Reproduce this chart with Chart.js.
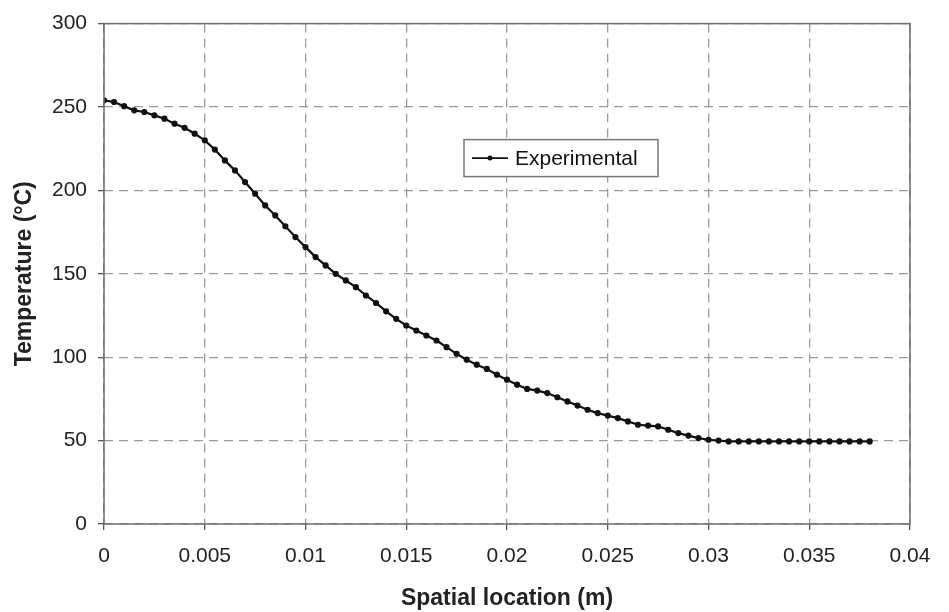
<!DOCTYPE html>
<html>
<head>
<meta charset="utf-8">
<title>Temperature profile</title>
<script src="https://cdn.jsdelivr.net/npm/chart.js@4/dist/chart.umd.min.js"></script>
<style>
  html, body { margin: 0; padding: 0; background: #fff; }
  #wrap { width: 949px; height: 612px; position: relative; }
</style>
</head>
<body>
<div id="wrap"><canvas id="tempChart"></canvas></div>
<script>
// spatial location (m), sampled every 0.5 mm
const locations = [
  0, 0.0005, 0.001, 0.0015, 0.002, 0.0025, 0.003, 0.0035, 0.004, 0.0045,
  0.005, 0.0055, 0.006, 0.0065, 0.007, 0.0075, 0.008, 0.0085, 0.009, 0.0095,
  0.01, 0.0105, 0.011, 0.0115, 0.012, 0.0125, 0.013, 0.0135, 0.014, 0.0145,
  0.015, 0.0155, 0.016, 0.0165, 0.017, 0.0175, 0.018, 0.0185, 0.019, 0.0195,
  0.02, 0.0205, 0.021, 0.0215, 0.022, 0.0225, 0.023, 0.0235, 0.024, 0.0245,
  0.025, 0.0255, 0.026, 0.0265, 0.027, 0.0275, 0.028, 0.0285, 0.029, 0.0295,
  0.03, 0.0305, 0.031, 0.0315, 0.032, 0.0325, 0.033, 0.0335, 0.034, 0.0345,
  0.035, 0.0355, 0.036, 0.0365, 0.037, 0.0375, 0.038
];

// measured temperature (°C)
const temperatures = [
  254, 253, 250.5, 248, 247, 245, 243, 240, 237.5, 234,
  230, 224.5, 218, 212, 205, 198, 191, 185, 178.5, 172,
  166, 160, 155, 150, 146, 142, 137, 132.5, 127.5, 123,
  119, 116, 113, 110, 106, 102, 98.5, 95.5, 93, 89.5,
  86.5, 83.5, 81, 80, 78.5, 76, 73.5, 71, 68.5, 66.5,
  65, 63.5, 61.5, 59.5, 59, 58.5, 56.5, 54.5, 53, 51.5,
  50.5, 50, 49.5, 49.5, 49.5, 49.5, 49.5, 49.5, 49.5, 49.5,
  49.5, 49.5, 49.5, 49.5, 49.5, 49.5, 49.5
];

const seriesLabel = 'Experimental';
const xTicks = [0, 0.005, 0.01, 0.015, 0.02, 0.025, 0.03, 0.035, 0.04];
const yTicks = [0, 50, 100, 150, 200, 250, 300];

const FONT = 'Arial, "Liberation Sans", sans-serif';

// box round the plot area
const frame = {
  id: 'frame',
  afterDatasetsDraw(chart) {
    const { ctx, chartArea: a } = chart;
    ctx.save();
    ctx.strokeStyle = '#6e6e6e';
    ctx.lineWidth = 1.5;
    ctx.strokeRect(a.left, a.top, a.right - a.left, a.bottom - a.top);
    ctx.restore();
  }
};

// legend box sitting inside the plot
const insideLegend = {
  id: 'insideLegend',
  afterDraw(chart) {
    const { ctx, chartArea: a } = chart;
    const x = a.left + 360, y = a.top + 116, w = 194, h = 37;
    ctx.save();
    ctx.fillStyle = '#fff';
    ctx.fillRect(x, y, w, h);
    ctx.strokeStyle = '#777';
    ctx.lineWidth = 1.5;
    ctx.strokeRect(x, y, w, h);
    const my = y + h / 2;
    ctx.strokeStyle = '#111';
    ctx.lineWidth = 1.8;
    ctx.beginPath();
    ctx.moveTo(x + 8, my);
    ctx.lineTo(x + 44, my);
    ctx.stroke();
    ctx.fillStyle = '#111';
    ctx.beginPath();
    ctx.arc(x + 26, my, 2.5, 0, Math.PI * 2);
    ctx.fill();
    ctx.font = '21px ' + FONT;
    ctx.textBaseline = 'middle';
    ctx.fillText(chart.data.datasets[0].label, x + 51, my + 1);
    ctx.restore();
  }
};

const gridOpts = {
  color: '#9a9a9a',
  lineWidth: 1.3,
  tickLength: 6,
  tickColor: '#555',
  tickBorderDash: []
};

const ctx = document.getElementById('tempChart').getContext('2d');
new Chart(ctx, {
  type: 'scatter',
  data: {
    datasets: [{
      label: seriesLabel,
      data: locations.map((x, i) => ({ x, y: temperatures[i] })),
      showLine: true,
      borderColor: '#111',
      backgroundColor: '#111',
      borderWidth: 2.2,
      pointRadius: 2,
      pointStyle: 'circle',
      tension: 0
    }]
  },
  options: {
    responsive: true,
    maintainAspectRatio: false,
    animation: false,
    layout: { padding: { top: 20, right: 39, left: 0, bottom: 0 } },
    plugins: {
      legend: { display: false },
      tooltip: { enabled: false }
    },
    scales: {
      x: {
        type: 'linear',
        min: 0,
        max: 0.04,
        afterBuildTicks: s => { s.ticks = xTicks.map(v => ({ value: v })); },
        afterFit: s => { s.height = 88; },
        ticks: {
          color: '#222',
          font: { family: FONT, size: 21 },
          padding: 14,
          maxRotation: 0,
          callback: v => String(v)
        },
        grid: gridOpts,
        border: { display: false, dash: [9, 6] },
        title: {
          display: true,
          text: 'Spatial location (m)',
          color: '#222',
          font: { family: FONT, size: 23, weight: 'bold' },
          padding: { top: 0, bottom: 0 }
        }
      },
      y: {
        type: 'linear',
        min: 0,
        max: 300,
        afterBuildTicks: s => { s.ticks = yTicks.map(v => ({ value: v })); },
        afterFit: s => { s.width = 104; },
        ticks: {
          color: '#222',
          font: { family: FONT, size: 21 },
          padding: 11
        },
        grid: gridOpts,
        border: { display: false, dash: [9, 6] },
        title: {
          display: true,
          text: 'Temperature (°C)',
          color: '#222',
          font: { family: FONT, size: 23, weight: 'bold' },
          padding: { top: 11, bottom: 0 }
        }
      }
    }
  },
  plugins: [frame, insideLegend]
});
</script>
</body>
</html>
